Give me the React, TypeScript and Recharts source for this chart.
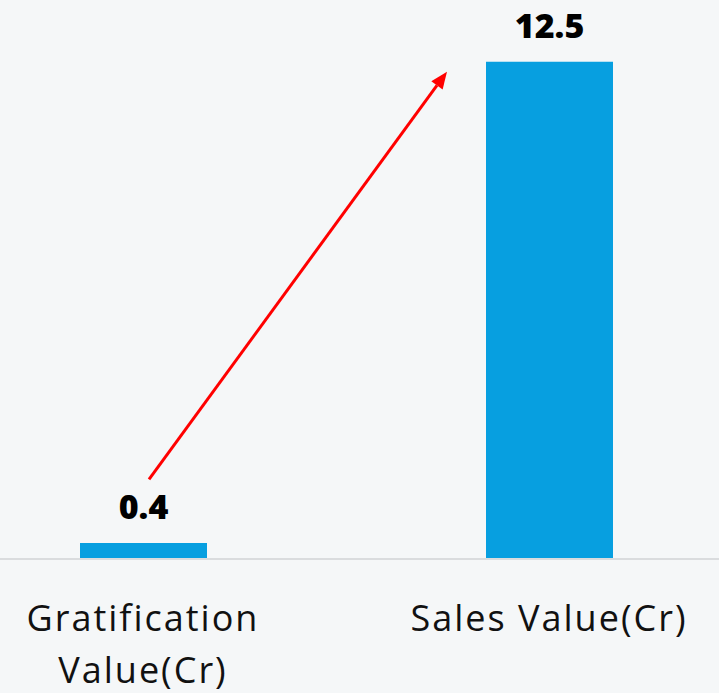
import { BarChart, Bar, XAxis, YAxis, LabelList, ReferenceLine } from "recharts";

const categories = ["Gratification Value(Cr)", "Sales Value(Cr)"];
const values = [0.4, 12.5];
const yMax = 14;
// arrow annotation, in value units
const arrowFrom = 2.0;
const arrowTo = 12.25;

const data = categories.map((name, i) => ({ name, value: values[i] }));

const FONT = "'Open Sans', sans-serif";

function wrap(label: string, max = 15) {
  const lines: string[] = [];
  let cur = "";
  label.split(" ").forEach(w => {
    const next = cur ? cur + " " + w : w;
    if (next.length > max && cur) {
      lines.push(cur);
      cur = w;
    } else cur = next;
  });
  if (cur) lines.push(cur);
  return lines;
}

function CategoryTick({ x, y, payload }: any) {
  const lines = wrap(payload.value);
  return (
    <text x={x} y={y} textAnchor="middle" fill="#111" fontSize={36} letterSpacing={2} fontFamily={FONT}>
      {lines.map((l, i) => (
        <tspan key={i} x={x} dy={i === 0 ? 72 : 52}>{l}</tspan>
      ))}
    </text>
  );
}

function Arrow({ x1, y1, x2, y2 }: any) {
  const sx = x1 + 6, sy = y1;
  const ex = x2 - 102, ey = y2;
  const len = Math.hypot(ex - sx, ey - sy);
  const ux = (ex - sx) / len, uy = (ey - sy) / len;
  const head = 17, half = 7;
  const bx = ex - ux * head, by = ey - uy * head;
  const pts = `${ex},${ey} ${bx - uy * half},${by + ux * half} ${bx + uy * half},${by - ux * half}`;
  return (
    <g>
      <line x1={sx} y1={sy} x2={bx} y2={by} stroke="#ff0000" strokeWidth={3} />
      <polygon points={pts} fill="#ff0000" />
    </g>
  );
}

export default function App() {
  return (
    <div style={{ position: "absolute", left: 0, top: 0, width: 719, height: 693, overflow: "hidden", background: "#f5f7f8" }}>
      <div style={{ position: "absolute", left: -60, top: 0 }}>
        <BarChart width={812} height={693} data={data} margin={{ top: 2, right: 0, bottom: 0, left: 0 }}>
          <XAxis
            dataKey="name"
            height={134}
            interval={0}
            tickLine={false}
            tickSize={0}
            tickMargin={0}
            axisLine={{ stroke: "#dadcde", strokeWidth: 2 }}
            tick={<CategoryTick />}
          />
          <YAxis hide domain={[0, yMax]} />
          <Bar dataKey="value" fill="#079fe0" barSize={127} isAnimationActive={false}>
            <LabelList dataKey="value" position="top" offset={24} fill="#000" fontSize={34} fontWeight={800} fontFamily={FONT} />
          </Bar>
          <ReferenceLine
            segment={[{ x: categories[0], y: arrowFrom }, { x: categories[1], y: arrowTo }]}
            shape={<Arrow />}
          />
        </BarChart>
      </div>
    </div>
  );
}
